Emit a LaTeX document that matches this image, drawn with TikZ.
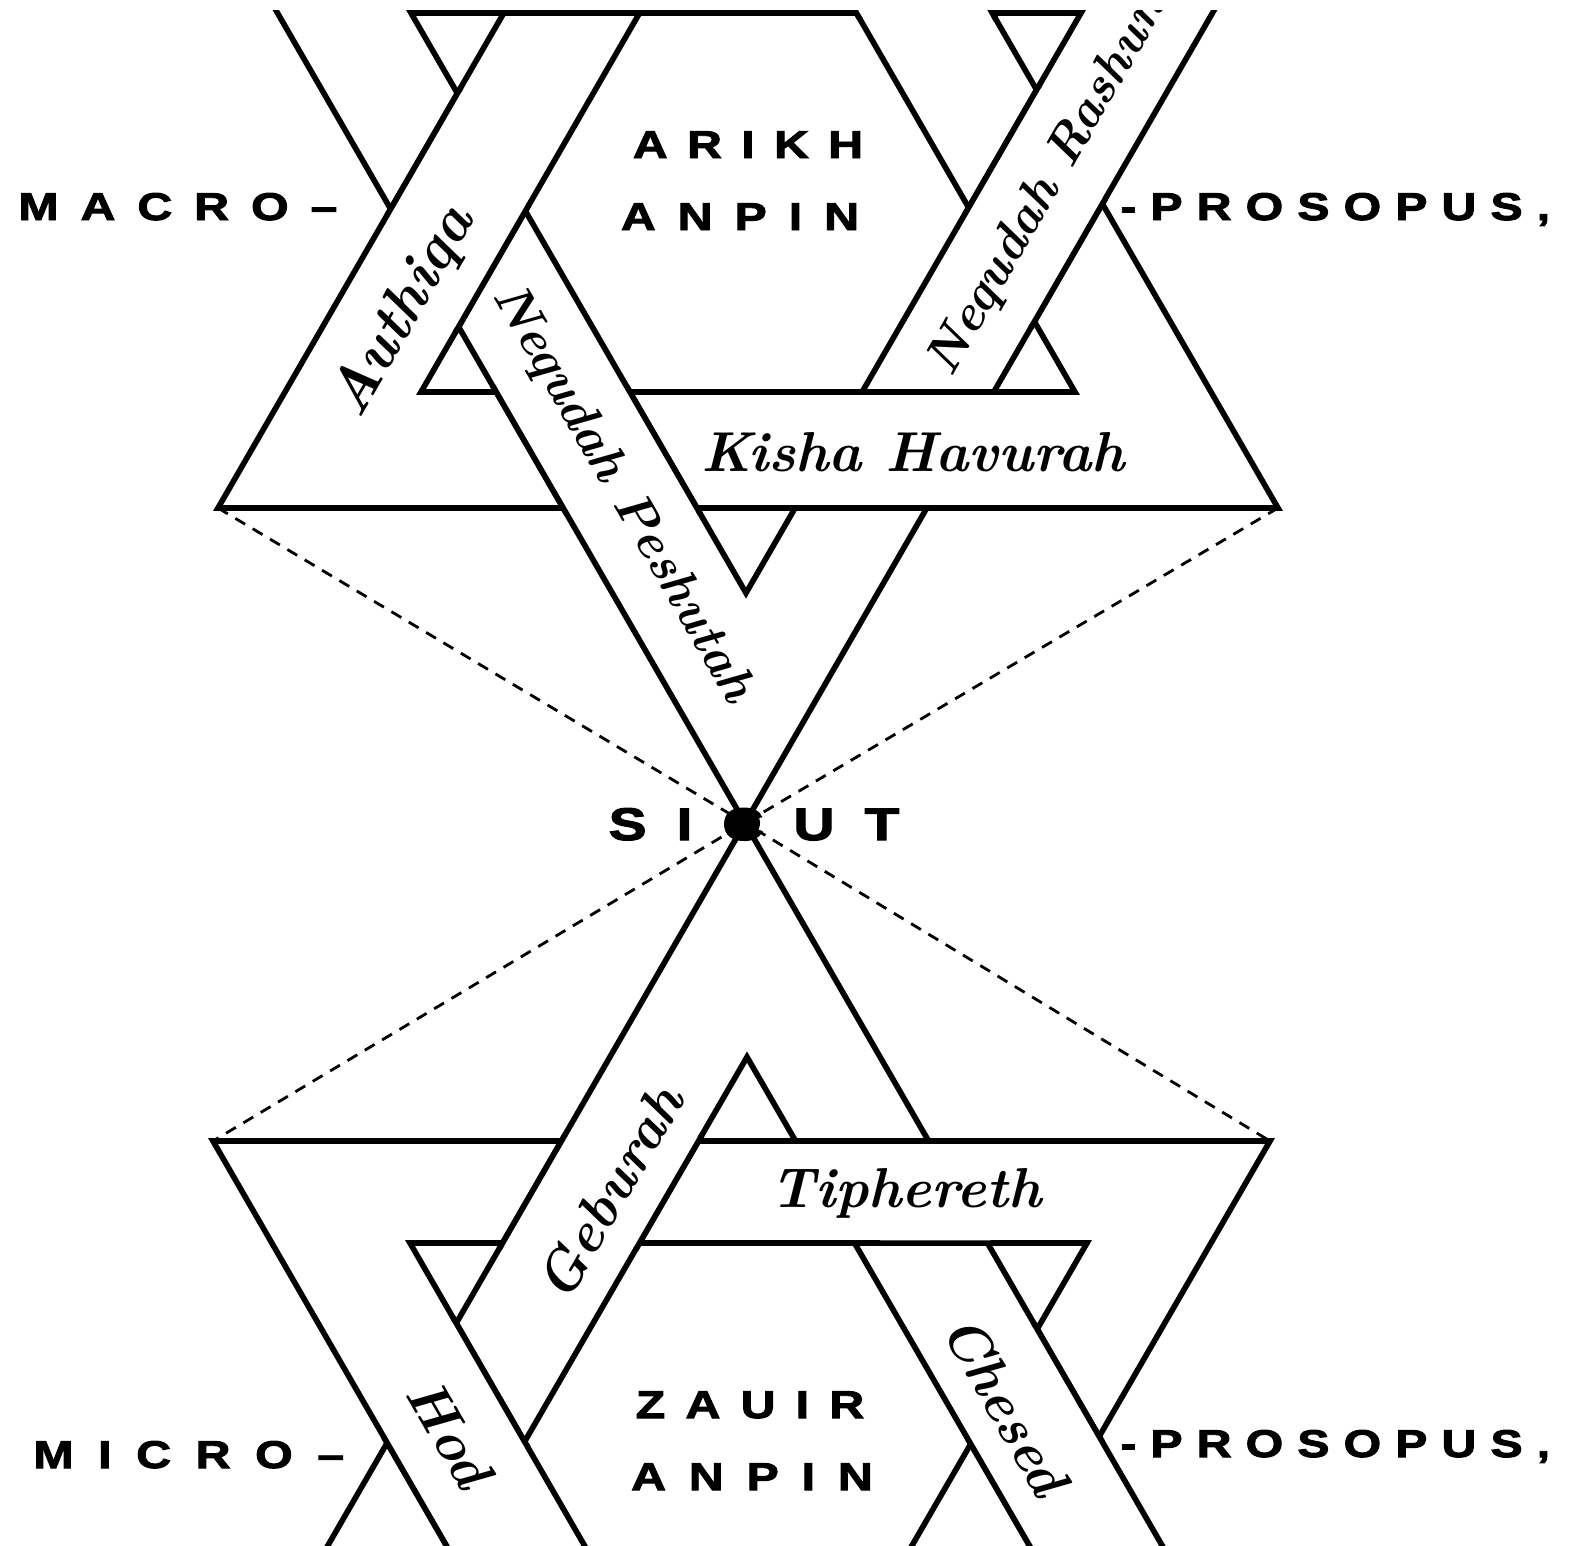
\documentclass[tikz,border=0pt]{standalone}
\usepackage{fontspec}
\usepackage{tikz}
\usetikzlibrary{calc}
\newfontfamily\capsfont{Liberation Sans}[FakeStretch=1.25,BoldFeatures={FakeBold=2.5}]
\makeatletter
\newcommand\tracked[2]{\begingroup\def\trk@sep{}%
  \@tfor\trk@c:=#2\do{\trk@sep\trk@c\def\trk@sep{\hspace{#1}}}\endgroup}
\makeatother
\tikzset{
  hline/.style={line width=3.2pt,line join=miter},
  hwipe/.style={draw=white,line width=4.4pt},
  hguide/.style={line width=1.6pt,dash pattern=on 6.5pt off 5pt},
  hcaps/.style={font=\capsfont\bfseries\fontsize{22}{26}\selectfont,inner sep=0pt},
  hscript/.style={font=\bfseries\itshape\fontsize{32}{36}\selectfont,inner sep=0pt},
  hsmall/.style={font=\bfseries\itshape\fontsize{29}{33}\selectfont}
}
% band A (outer #1--#2, inner #3--#4) passes over band B (outer #5--#6, inner #7--#8)
\newcommand\bandover[8]{%
  \coordinate (p1) at (intersection of #1--#2 and #5--#6);
  \coordinate (p2) at (intersection of #1--#2 and #7--#8);
  \coordinate (p3) at (intersection of #3--#4 and #7--#8);
  \coordinate (p4) at (intersection of #3--#4 and #5--#6);
  \fill[white] (p1) -- (p2) -- (p3) -- (p4) -- cycle;
  \draw[hwipe] (p1) -- (p4) (p2) -- (p3);
  \draw[hline,shorten <=-4pt,shorten >=-4pt] (p1) -- (p2);
  \draw[hline,shorten <=-4pt,shorten >=-4pt] (p4) -- (p3);
}

\begin{document}
\begin{tikzpicture}[x=0.02cm,y=-0.02cm]
  \useasboundingbox (0,0) rectangle (1570,1546);
  \clip (0,10.5) rectangle (1570,1546);
  % upper star: up triangle (tu) and down triangle (td), outer o / inner i
  \coordinate (tuoA) at (748,-410); \coordinate (tuoB) at (218,508); \coordinate (tuoC) at (1278,508);
  \coordinate (tuiA) at (748,-175); \coordinate (tuiB) at (421,392); \coordinate (tuiC) at (1075,392);
  \coordinate (tdoA) at (745,823);  \coordinate (tdoB) at (210,-104); \coordinate (tdoC) at (1280,-104);
  \coordinate (tdiA) at (746,593);  \coordinate (tdiB) at (411,13);  \coordinate (tdiC) at (1081,13);
  % lower star
  \coordinate (buoA) at (745,823);  \coordinate (buoB) at (215,1741); \coordinate (buoC) at (1275,1741);
  \coordinate (buiA) at (747,1057); \coordinate (buiB) at (418,1626); \coordinate (buiC) at (1076,1626);
  \coordinate (bdoA) at (741,2056); \coordinate (bdoB) at (213,1141); \coordinate (bdoC) at (1270,1141);
  \coordinate (bdiA) at (748,1829); \coordinate (bdiB) at (410,1243); \coordinate (bdiC) at (1087,1243);
  \foreach \t in {tuo,tui,tdo,tdi,buo,bui,bdo,bdi}
    \draw[hline] (\t A) -- (\t B) -- (\t C) -- cycle;
  % interlacing
  \bandover{tdoB}{tdoC}{tdiB}{tdiC}{tuoA}{tuoB}{tuiA}{tuiB}
  \bandover{tuoA}{tuoB}{tuiA}{tuiB}{tdoA}{tdoB}{tdiA}{tdiB}
  \bandover{tdoA}{tdoB}{tdiA}{tdiB}{tuoB}{tuoC}{tuiB}{tuiC}
  \bandover{tuoB}{tuoC}{tuiB}{tuiC}{tdoA}{tdoC}{tdiA}{tdiC}
  \bandover{tdoA}{tdoC}{tdiA}{tdiC}{tuoA}{tuoC}{tuiA}{tuiC}
  \bandover{tuoA}{tuoC}{tuiA}{tuiC}{tdoB}{tdoC}{tdiB}{tdiC}
  \bandover{buoA}{buoB}{buiA}{buiB}{bdoB}{bdoC}{bdiB}{bdiC}
  \bandover{bdoB}{bdoC}{bdiB}{bdiC}{buoA}{buoC}{buiA}{buiC}
  \bandover{buoA}{buoC}{buiA}{buiC}{bdoA}{bdoC}{bdiA}{bdiC}
  \bandover{bdoA}{bdoB}{bdiA}{bdiB}{buoA}{buoB}{buiA}{buiB}
  % dotted rays through the point
  \draw[hguide] (tuoB) -- (tdoA) -- (bdoC);
  \draw[hguide] (tuoC) -- (tdoA) -- (bdoB);
  % capitals
  \node[hcaps,anchor=base west] (macro) at (18,220) {\tracked{12.5pt}{MACRO{\textendash}}};
  \node[hcaps,anchor=base west] (prosu) at (1120,220) {\tracked{8pt}{-PROSOPUS,}};
  \node[hcaps,anchor=base] (arikh) at (748,158) {\tracked{11pt}{ARIKH}};
  \node[hcaps,anchor=base] (anpinu) at (740,230) {\tracked{12.5pt}{ANPIN}};
  \node[hcaps,anchor=base,font=\capsfont\bfseries\fontsize{26}{28}\selectfont] (sicut) at (754,840) {\tracked{17pt}{SICUT}};
  \node[hcaps,anchor=base] (zauir) at (750,1418) {\tracked{11.5pt}{ZAUIR}};
  \node[hcaps,anchor=base] (anpinl) at (752,1490) {\tracked{13pt}{ANPIN}};
  \node[hcaps,anchor=base west] (micro) at (33,1468) {\tracked{14pt}{MICRO{\textendash}}};
  \node[hcaps,anchor=base west] (prosl) at (1120,1457) {\tracked{8pt}{-PROSOPUS,}};
  \fill (tdoA) circle[radius=0.3cm];
  % names on the bands
  \node[hscript,rotate=60,font=\bfseries\itshape\fontsize{34}{38}\selectfont] (authiqa) at (404,312) {Authiqa};
  \node[hscript,hsmall,rotate=-60] (peshutah) at (622,494) {Nequdah Peshutah};
  \node[hscript,hsmall,rotate=60,anchor=west] (rashunah) at (940,372) {Nequdah Rashunah};
  \node[hscript] (kisha) at (913,452) {Kisha Havurah};
  \node[hscript,rotate=60] (geburah) at (610,1192) {Geburah};
  \node[hscript] (tiphereth) at (906,1193) {Tiphereth};
  \node[hscript,rotate=-60] (hod) at (450,1433) {Hod};
  \node[hscript,rotate=-60] (chesed) at (1006,1405) {Chesed};
\end{tikzpicture}
\end{document}
